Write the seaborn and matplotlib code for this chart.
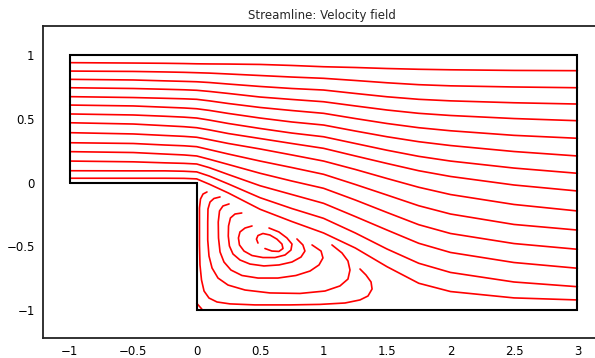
import pandas as pd
import matplotlib
matplotlib.use('Agg')
import matplotlib.pyplot as plt
import seaborn as sns

# geometry of the backward facing step
wall_x = [-1, -1, 3, 3, 0, 0, -1]
wall_y = [0, 1, 1, -1, -1, 0, 0]

# through-flow streamlines, y read at these x stations
x_stations = [-1, -0.5, -0.25, -0.1, 0, 0.1, 0.25, 0.5, 0.75, 1, 1.25, 1.5, 1.75, 2, 2.5, 3]
through_y = [
    [0.943, 0.940, 0.938, 0.936, 0.934, 0.933, 0.932, 0.929, 0.921, 0.911, 0.905, 0.897, 0.891, 0.887, 0.882, 0.880],
    [0.877, 0.874, 0.870, 0.867, 0.864, 0.861, 0.854, 0.842, 0.830, 0.820, 0.803, 0.785, 0.770, 0.761, 0.752, 0.746],
    [0.812, 0.807, 0.800, 0.796, 0.793, 0.787, 0.775, 0.756, 0.740, 0.728, 0.701, 0.675, 0.655, 0.643, 0.628, 0.618],
    [0.746, 0.740, 0.734, 0.730, 0.726, 0.717, 0.701, 0.673, 0.654, 0.636, 0.603, 0.571, 0.545, 0.528, 0.504, 0.487],
    [0.676, 0.669, 0.663, 0.659, 0.655, 0.643, 0.622, 0.591, 0.567, 0.545, 0.504, 0.465, 0.432, 0.408, 0.372, 0.349],
    [0.610, 0.603, 0.593, 0.587, 0.581, 0.568, 0.544, 0.508, 0.477, 0.453, 0.406, 0.361, 0.322, 0.292, 0.245, 0.210],
    [0.540, 0.532, 0.522, 0.515, 0.508, 0.492, 0.465, 0.426, 0.390, 0.361, 0.308, 0.255, 0.207, 0.170, 0.115, 0.074],
    [0.471, 0.461, 0.448, 0.440, 0.432, 0.415, 0.386, 0.347, 0.308, 0.270, 0.210, 0.151, 0.094, 0.049, -0.018, -0.065],
    [0.393, 0.383, 0.371, 0.364, 0.357, 0.338, 0.308, 0.265, 0.218, 0.170, 0.104, 0.033, -0.036, -0.093, -0.171, -0.222],
    [0.314, 0.308, 0.296, 0.290, 0.283, 0.260, 0.225, 0.170, 0.119, 0.066, -0.014, -0.097, -0.181, -0.246, -0.328, -0.372],
    [0.244, 0.237, 0.225, 0.218, 0.210, 0.184, 0.143, 0.074, 0.013, -0.044, -0.136, -0.234, -0.330, -0.399, -0.478, -0.523],
    [0.170, 0.164, 0.156, 0.152, 0.147, 0.118, 0.064, -0.024, -0.093, -0.162, -0.266, -0.372, -0.476, -0.548, -0.627, -0.672],
    [0.094, 0.093, 0.093, 0.090, 0.085, 0.052, -0.010, -0.118, -0.203, -0.280, -0.395, -0.521, -0.633, -0.705, -0.780, -0.817],
    [0.035, 0.035, 0.035, 0.034, 0.030, -0.012, -0.081, -0.209, -0.305, -0.395, -0.513, -0.660, -0.790, -0.855, -0.905, -0.921],
]

# recirculation streamlines behind the step (outermost first)
eddy_x = [
    [0.081, 0.050, 0.030, 0.022, 0.022, 0.022, 0.026, 0.038, 0.058, 0.097, 0.160, 0.262, 0.459, 0.735, 0.972, 1.169, 1.287, 1.350, 1.382, 1.374, 1.334, 1.287],
    [0.184, 0.136, 0.105, 0.089, 0.087, 0.087, 0.097, 0.121, 0.168, 0.247, 0.381, 0.577, 0.814, 1.011, 1.129, 1.192, 1.208, 1.192, 1.145, 1.066],
    [0.255, 0.207, 0.180, 0.170, 0.172, 0.184, 0.215, 0.270, 0.357, 0.483, 0.640, 0.782, 0.893, 0.964, 0.995, 0.980, 0.909],
    [0.355, 0.302, 0.266, 0.251, 0.249, 0.258, 0.286, 0.341, 0.420, 0.530, 0.649, 0.751, 0.822, 0.853, 0.837, 0.790],
    [0.436, 0.381, 0.341, 0.329, 0.337, 0.373, 0.436, 0.522, 0.617, 0.696, 0.743, 0.751, 0.711, 0.648, 0.570],
    [0.483, 0.471, 0.483, 0.522, 0.577, 0.632, 0.672, 0.680, 0.648, 0.593, 0.538],
    [0.0, 0.04],
]
eddy_y = [
    [-0.073, -0.089, -0.128, -0.199, -0.332, -0.489, -0.646, -0.764, -0.851, -0.906, -0.937, -0.952, -0.960, -0.960, -0.956, -0.945, -0.921, -0.890, -0.835, -0.780, -0.725, -0.678],
    [-0.112, -0.124, -0.152, -0.207, -0.309, -0.450, -0.576, -0.670, -0.749, -0.804, -0.843, -0.866, -0.870, -0.851, -0.811, -0.757, -0.686, -0.615, -0.552, -0.489],
    [-0.167, -0.183, -0.222, -0.309, -0.434, -0.544, -0.623, -0.686, -0.729, -0.749, -0.749, -0.729, -0.694, -0.646, -0.591, -0.537, -0.489],
    [-0.238, -0.246, -0.277, -0.340, -0.419, -0.497, -0.560, -0.607, -0.639, -0.654, -0.646, -0.623, -0.584, -0.537, -0.489, -0.442],
    [-0.340, -0.356, -0.387, -0.434, -0.489, -0.537, -0.572, -0.588, -0.588, -0.568, -0.529, -0.482, -0.434, -0.387, -0.356],
    [-0.474, -0.443, -0.415, -0.399, -0.411, -0.443, -0.482, -0.517, -0.540, -0.537, -0.517],
    [-0.947, -0.992],
]

rows = []
for i, ys in enumerate(through_y):
    for j, (x, y) in enumerate(zip(x_stations, ys)):
        rows.append({'line': 'u%d' % i, 'order': j, 'x': x, 'y': y})
for i, (xs, ys) in enumerate(zip(eddy_x, eddy_y)):
    for j, (x, y) in enumerate(zip(xs, ys)):
        rows.append({'line': 'e%d' % i, 'order': j, 'x': x, 'y': y})
df = pd.DataFrame(rows)

sns.set_style('white')
plt.rcParams['font.family'] = ['DejaVu Sans']

fig = plt.figure(figsize=(5.95, 3.58), dpi=100)
ax = fig.add_axes([43 / 595, 20 / 358, 558 / 595, 312 / 358])

sns.lineplot(data=df, x='x', y='y', units='line', estimator=None, sort=False,
             color='#ff0000', linewidth=1.2, ax=ax, legend=False)
ax.plot(wall_x, wall_y, color='black', linewidth=1.5, solid_joinstyle='miter')

ax.set_xlim(-1.211, 3.186)
ax.set_ylim(-1.22, 1.231)
ax.set_xticks([-1, -0.5, 0, 0.5, 1, 1.5, 2, 2.5, 3])
ax.set_xticklabels(['\u22121', '\u22120.5', '0', '0.5', '1', '1.5', '2', '2.5', '3'])
ax.set_yticks([-1, -0.5, 0, 0.5, 1])
ax.set_yticklabels(['\u22121', '\u22120.5', '0', '0.5', '1'])
ax.tick_params(length=0, labelsize=8.5, colors='black')
ax.tick_params(axis='y', pad=6)
ax.tick_params(axis='x', pad=5)
ax.set_xlabel('')
ax.set_ylabel('')
for side in ['left', 'bottom', 'top']:
    ax.spines[side].set_color('#222222')
    ax.spines[side].set_linewidth(1.3)
ax.spines['right'].set_visible(False)
ax.set_title('Streamline: Velocity field', fontsize=8.5, pad=5)

fig.savefig('out.png', dpi=100)
